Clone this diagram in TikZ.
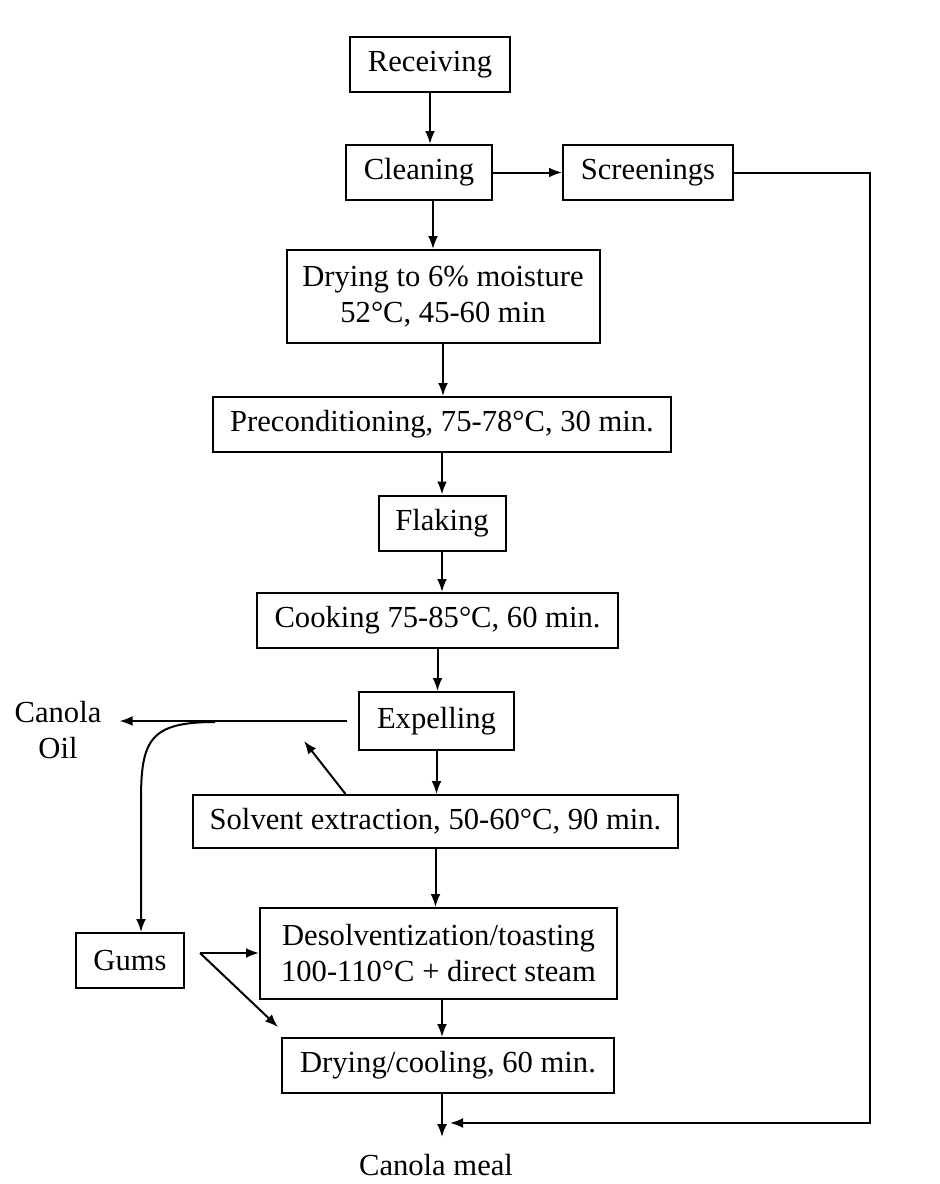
\documentclass[tikz,border=0pt]{standalone}
\usepackage{fontspec}
\setmainfont{Liberation Serif}
\usetikzlibrary{arrows.meta}
\begin{document}
\begin{tikzpicture}[
    x=1pt, y=-1pt,
    font=\fontsize{30.6}{36}\selectfont,
    stage/.style={draw, line width=2pt, inner sep=0pt, minimum height=55pt,
                  align=center},
    outtext/.style={inner sep=2pt, align=center},
    arrow/.style={-{Latex[length=13pt,width=10pt]}, line width=2pt}
]
\useasboundingbox (0,0) rectangle (940,1184);

\node[stage, minimum width=160pt] (receiving) at (430,64.5) {Receiving};
\node[stage, minimum width=146pt] (cleaning) at (419,172.5) {Cleaning};
\node[stage, minimum width=170pt] (screenings) at (648,172.5) {Screenings};
\node[stage, minimum width=313pt, minimum height=93pt] (drying) at (443,296.5)
    {Drying to 6\% moisture\\52°C, 45-60 min};
\node[stage, minimum width=458pt] (precond) at (442,424.5)
    {Preconditioning, 75-78°C, 30 min.};
\node[stage, minimum width=127pt] (flaking) at (442,523) {Flaking};
\node[stage, minimum width=361pt] (cooking) at (437.5,620.5)
    {Cooking 75-85°C, 60 min.};
\node[stage, minimum width=155pt, minimum height=58pt] (expelling) at (436.5,721)
    {Expelling};
\node[stage, minimum width=485pt, minimum height=53pt] (solvent) at (435.5,821.5)
    {Solvent extraction, 50-60°C, 90 min.};
\node[stage, minimum width=357pt, minimum height=91pt] (desolv) at (438.5,953.5)
    {Desolventization/toasting\\100-110°C + direct steam};
\node[stage, minimum width=332pt] (drycool) at (448,1065.5)
    {Drying/cooling, 60 min.};
\node[stage, minimum width=108pt] (gums) at (130,960.5) {Gums};
\node[outtext, inner xsep=18pt] (oil) at (58,730) {Canola\\Oil};
\node[outtext, inner ysep=17pt] (meal) at (436,1165) {Canola meal};

\coordinate (split) at (215,722);
\coordinate (oilreturn) at (304,741);
\coordinate (gumsfork) at (200,953);
\coordinate (bypass) at (870,1123);
\coordinate (merge) at (450,1123);

\draw[arrow] (receiving.south) -- (receiving.south |- cleaning.north);
\draw[arrow] (cleaning) -- (screenings);
\draw[arrow] ([xshift=14pt]cleaning.south) -- ([xshift=14pt]cleaning.south |- drying.north);
\draw[arrow] (drying.south) -- (drying.south |- precond.north);
\draw[arrow] (precond.south -| flaking) -- (flaking.north);
\draw[arrow] (flaking.south) -- (flaking.south |- cooking.north);
\draw[arrow] (cooking.south) -- (cooking.south |- expelling.north);
\draw[arrow] ([xshift=-11pt]expelling.west) -- (oil.east |- expelling.west);
\draw[arrow] (split) .. controls (150,722) and (141,740) .. (141,800)
    -- ([xshift=11pt]gums.north);
\draw[arrow] (expelling.south) -- (expelling.south |- solvent.north);
\draw[arrow] ([xshift=-90pt]solvent.north) -- (oilreturn);
\draw[arrow] (solvent.south) -- (solvent.south |- desolv.north);
\draw[arrow] (gumsfork) -- (gumsfork -| desolv.west);
\draw[arrow] (gumsfork) -- ([xshift=-3pt,yshift=10pt]drycool.north west);
\draw[arrow] ([xshift=-6pt]drycool.north |- desolv.south) -- ([xshift=-6pt]drycool.north);
\draw[arrow] ([xshift=-6pt]drycool.south) -- ([xshift=-6pt]drycool.south |- meal.north);
\draw[arrow] (screenings.east) -| (bypass) -- (merge);
\end{tikzpicture}
\end{document}
